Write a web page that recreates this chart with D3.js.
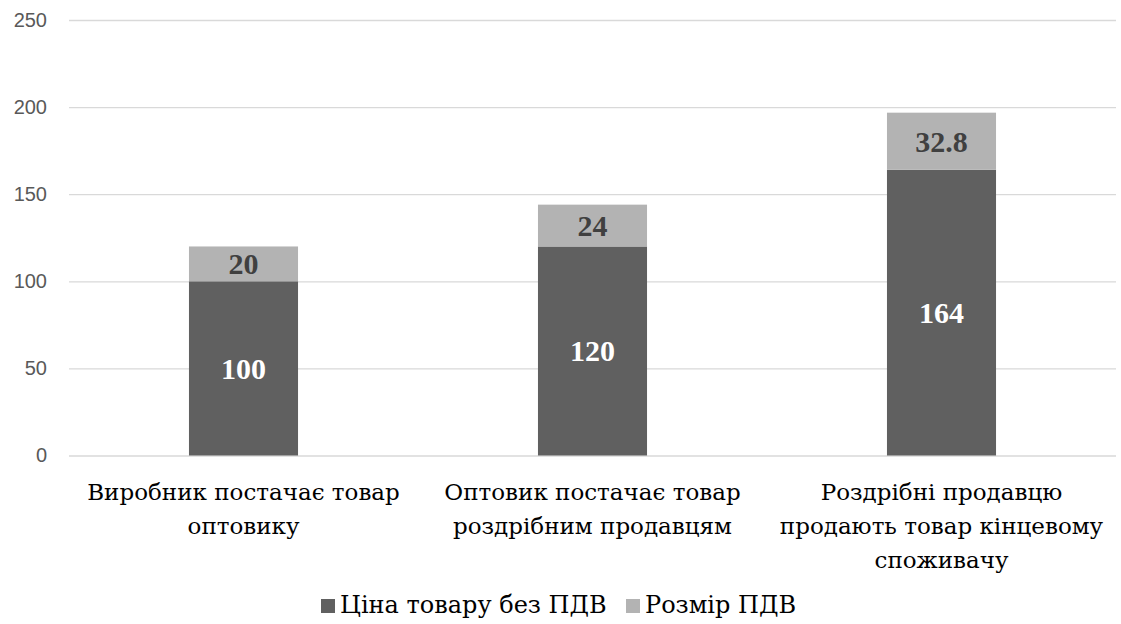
<!DOCTYPE html>
<html><head><meta charset="utf-8">
<script src="https://cdn.jsdelivr.net/npm/d3@7"></script>
<style>body{margin:0;background:#fff}svg{display:block}</style>
</head><body><svg id="c" width="1121" height="624"></svg>
<script>
const categories = [
  ["Виробник постачає товар", "оптовику"],
  ["Оптовик постачає товар", "роздрібним продавцям"],
  ["Роздрібні продавцю", "продають товар кінцевому", "споживачу"]
];
const seriesNames = ["Ціна товару без ПДВ", "Розмір ПДВ"];
const priceValues = [100, 120, 164];
const vatValues = [20, 24, 32.8];
const yTicks = [0, 50, 100, 150, 200, 250];
const colors = ["#606060", "#b3b3b3"];
const labelColors = ["#ffffff", "#404040"];
const serif = "'Liberation Serif', serif";
const cyrSerif = "'DejaVu Serif', serif";

const svg = d3.select("#c");
const plotL = 69, plotR = 1116, plotT = 20, plotB = 455.5;
const x = d3.scaleBand().domain(d3.range(categories.length)).range([plotL, plotR]).padding(0);
const y = d3.scaleLinear().domain([0, 250]).range([plotB, plotT]);
const barW = x.bandwidth() * 0.3125;

const yAxis = d3.axisLeft(y).tickValues(yTicks).tickSize(-(plotR - plotL)).tickPadding(22).tickFormat(d3.format("d"));
const ga = svg.append("g").attr("transform", `translate(${plotL},0)`).call(yAxis);
ga.select(".domain").remove();
ga.selectAll(".tick line").attr("stroke", "#d9d9d9").attr("stroke-width", 1.3);
ga.selectAll(".tick text").attr("fill", "#595959").style("font-family", "'Liberation Sans', Arial, sans-serif").style("font-size", "20px");

const stack = d3.stack().keys([0, 1])(categories.map((c, i) => ({0: priceValues[i], 1: vatValues[i]})));

stack.forEach((layer, k) => {
  const g = svg.append("g");
  g.selectAll("rect").data(layer).enter().append("rect")
    .attr("x", (d, i) => x(i) + x.bandwidth() / 2 - barW / 2)
    .attr("width", barW)
    .attr("y", d => y(d[1]))
    .attr("height", d => y(d[0]) - y(d[1]))
    .attr("fill", colors[k]);
  g.selectAll("text").data(layer).enter().append("text")
    .attr("x", (d, i) => x(i) + x.bandwidth() / 2)
    .attr("y", d => y((d[0] + d[1]) / 2))
    .attr("dy", "0.35em")
    .attr("text-anchor", "middle")
    .attr("fill", labelColors[k])
    .style("font-family", serif)
    .style("font-weight", "bold")
    .style("font-size", "30px")
    .text(d => +(d[1] - d[0]).toFixed(1));
});

const xl = svg.append("g");
categories.forEach((lines, i) => {
  const t = xl.append("text")
    .attr("text-anchor", "middle")
    .attr("fill", "#000")
    .style("font-family", cyrSerif)
    .style("font-size", "23px");
  lines.forEach((ln, j) => {
    t.append("tspan").attr("x", x(i) + x.bandwidth() / 2).attr("y", 500 + j * 34).text(ln);
  });
});

const legend = svg.append("g");
const legX = [321, 626];
seriesNames.forEach((name, k) => {
  legend.append("rect").attr("x", legX[k]).attr("y", 599).attr("width", 14).attr("height", 14).attr("fill", colors[k]);
  legend.append("text").attr("x", legX[k] + 19).attr("y", 613)
    .attr("fill", "#000")
    .style("font-family", cyrSerif)
    .style("font-size", "24px")
    .text(name);
});
</script></body></html>
